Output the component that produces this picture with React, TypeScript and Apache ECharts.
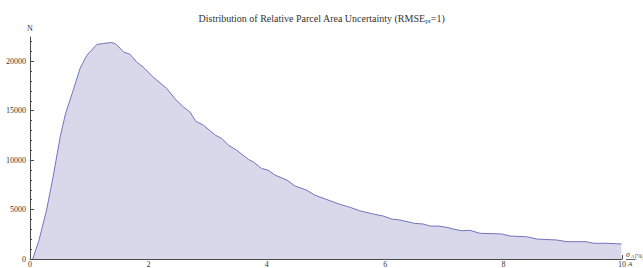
import React, { useEffect, useRef } from "react";
import * as echarts from "echarts";

const sigmaRatio = [
  0.045, 0.15, 0.28, 0.39, 0.51, 0.6, 0.73, 0.845, 0.96, 1.13, 1.24, 1.38, 1.46, 1.58, 1.69, 1.8, 1.91,
  2.08, 2.31, 2.45, 2.59, 2.7, 2.8, 2.93, 3.13, 3.24, 3.35, 3.49, 3.69, 3.77, 3.91, 4.02, 4.14, 4.34,
  4.48, 4.67, 4.81, 4.95, 5.07, 5.24, 5.41, 5.57, 5.8, 5.97, 6.11, 6.25, 6.5, 6.64, 6.76, 6.9, 7.04,
  7.15, 7.29, 7.43, 7.6, 7.97, 8.11, 8.39, 8.56, 8.9, 9.07, 9.4, 9.52, 9.74, 9.99,
];
const counts = [
  0, 1850, 4950, 8310, 12350, 14700, 17070, 19260, 20600, 21700, 21790, 21900, 21700, 20940, 20700, 19930, 19420,
  18410, 17240, 16200, 15380, 14880, 13940, 13530, 12530, 12190, 11520, 11010, 10070, 9830, 9160, 8990, 8480, 7980,
  7370, 6970, 6460, 6150, 5890, 5520, 5220, 4880, 4550, 4340, 4040, 3940, 3600, 3540, 3330, 3330, 3200,
  3030, 2860, 2900, 2600, 2530, 2320, 2250, 2020, 1920, 1750, 1750, 1590, 1590, 1520,
];

const xMajorTicks = [0, 2, 4, 6, 8, 10];
const xMinorTicks = [0, 0.5, 1, 1.5, 2, 2.5, 3, 3.5, 4, 4.5, 5, 5.5, 6, 6.5, 7, 7.5, 8, 8.5, 9, 9.5, 10];
const yMajorTicks = [0, 5000, 10000, 15000, 20000];
const yMinorTicks = [
  0, 1000, 2000, 3000, 4000, 5000, 6000, 7000, 8000, 9000, 10000, 11000, 12000, 13000, 14000, 15000,
  16000, 17000, 18000, 19000, 20000, 21000, 22000,
];

const FONT = "Liberation Serif";
const AXIS = "#4a4a4a";
const LABEL = "#383838";

export default function App() {
  const ref = useRef<HTMLDivElement>(null);
  useEffect(() => {
    if (!ref.current) return;
    const chart = echarts.init(ref.current, undefined, { renderer: "svg" });
    const data = sigmaRatio.map((x, i) => [x, counts[i]]);
    const xBase = { type: "value", min: 0, max: 10, gridIndex: 0, position: "bottom", splitLine: { show: false } };
    const yBase = { type: "value", min: 0, max: 22450, gridIndex: 0, position: "left", splitLine: { show: false } };
    const plain = (v: number) => String(v);
    chart.setOption({
      animation: false,
      backgroundColor: "#ffffff",
      title: {
        left: "center",
        top: 8,
        text: "Distribution of Relative Parcel Area Uncertainty (RMSE{sub|pt}=1)",
        textStyle: {
          fontFamily: FONT,
          fontSize: 10,
          fontWeight: "normal",
          color: "#333",
          rich: { sub: { fontFamily: FONT, fontSize: 7, verticalAlign: "bottom", padding: [4, 0, 0, 0], color: "#333" } },
        },
      },
      grid: { left: 30, right: 21, top: 37, bottom: 9, containLabel: false },
      xAxis: [
        {
          ...xBase,
          axisLine: { show: true, lineStyle: { color: AXIS, width: 1 } },
          axisTick: { show: true, inside: true, length: 4, customValues: xMajorTicks, lineStyle: { color: AXIS } },
          axisLabel: { customValues: xMajorTicks, formatter: plain, fontFamily: FONT, fontSize: 8, color: LABEL, margin: 1 },
        },
        {
          ...xBase,
          axisLine: { show: false },
          axisTick: { show: true, inside: true, length: 2, customValues: xMinorTicks, lineStyle: { color: AXIS } },
          axisLabel: { show: false },
        },
      ],
      yAxis: [
        {
          ...yBase,
          axisLine: { show: true, lineStyle: { color: AXIS, width: 1 } },
          axisTick: { show: true, inside: true, length: 4, customValues: yMajorTicks, lineStyle: { color: AXIS } },
          axisLabel: { customValues: yMajorTicks, formatter: plain, fontFamily: FONT, fontSize: 8, color: LABEL, margin: 4 },
          name: "N",
          nameLocation: "end",
          nameGap: 5,
          nameTextStyle: { fontFamily: FONT, fontSize: 8, color: LABEL, align: "center" },
        },
        {
          ...yBase,
          axisLine: { show: false },
          axisTick: { show: true, inside: true, length: 2, customValues: yMinorTicks, lineStyle: { color: AXIS } },
          axisLabel: { show: false },
        },
      ],
      graphic: [
        { type: "text", left: 626, top: 250, style: { text: "σ", font: `italic 8px '${FONT}'`, fill: LABEL } },
        { type: "text", left: 631, top: 254, style: { text: "A", font: `italic 5px '${FONT}'`, fill: LABEL } },
        { type: "line", shape: { x1: 626, y1: 259.5, x2: 635, y2: 259.5 }, style: { stroke: LABEL, lineWidth: 0.8 } },
        { type: "text", left: 628, top: 260, style: { text: "A", font: `italic 7px '${FONT}'`, fill: LABEL } },
        { type: "text", left: 635, top: 253, style: { text: "[%]", font: `6px '${FONT}'`, fill: LABEL } },
      ],
      series: [
        {
          type: "line",
          xAxisIndex: 0,
          yAxisIndex: 0,
          data,
          showSymbol: false,
          smooth: false,
          lineStyle: { color: "#7373bd", width: 1 },
          areaStyle: { color: "#d9d8eb", opacity: 1 },
        },
      ],
    });
    return () => chart.dispose();
  }, []);
  return <div ref={ref} style={{ position: "absolute", left: 0, top: 0, width: 643, height: 268 }} />;
}
